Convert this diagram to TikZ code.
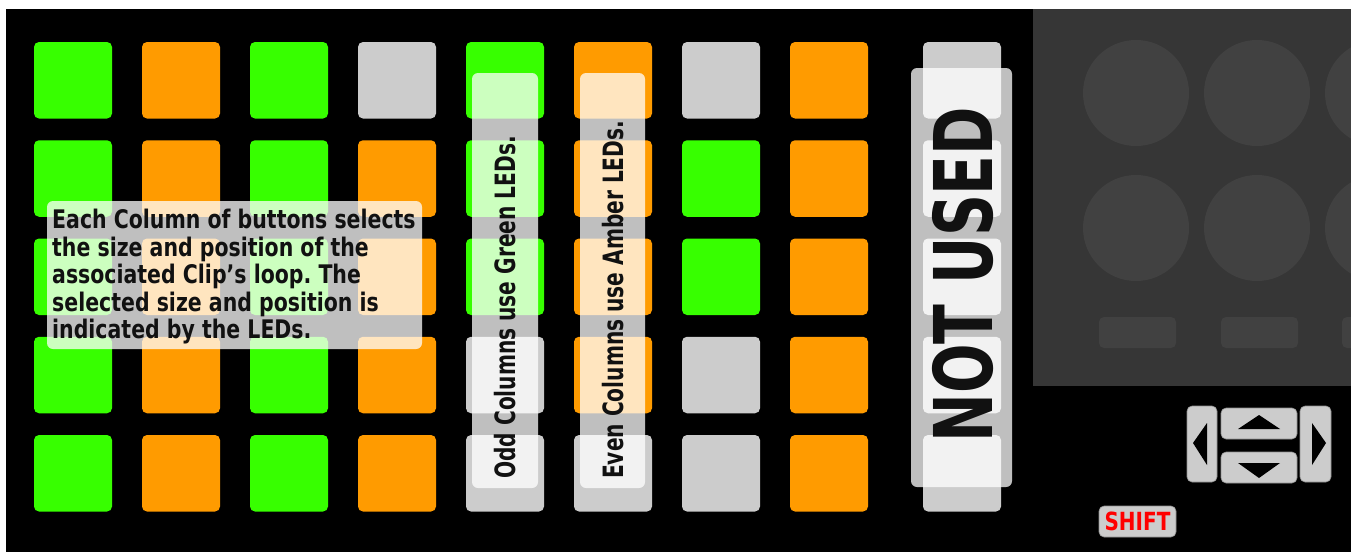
\documentclass[tikz,border=0pt]{standalone}
\usepackage{fontspec}
\usepackage{graphicx}
\newfontfamily\notefont{DejaVu Sans}[FakeStretch=0.8]
\newfontfamily\tallfont{DejaVu Sans}[FakeStretch=0.72]
\definecolor{padG}{HTML}{37FF00}
\definecolor{padO}{HTML}{FF9B00}
\definecolor{padW}{HTML}{CCCCCC}
\definecolor{panel}{HTML}{363636}
\definecolor{knob}{HTML}{414141}
\definecolor{ink}{HTML}{111111}
\definecolor{shiftred}{HTML}{FF0000}
\tikzset{
  pad/.style={rounded corners=5pt,minimum width=78pt,minimum height=76.5pt,inner sep=0pt},
  veil/.style={fill=white,fill opacity=0.75,rounded corners=6pt},
  navkey/.style={fill=padW,draw=padW!70!black,line width=0.6pt,rounded corners=5pt,inner sep=0pt},
  paratext/.style={text=ink,align=left,inner sep=0pt,font=\notefont\bfseries\fontsize{25.6}{27.5}\selectfont},
  coltext/.style={text=ink,inner sep=0pt,font=\tallfont\bfseries\fontsize{28}{30}\selectfont},
  bigtext/.style={text=ink,inner sep=0pt,font=\tallfont\bfseries\fontsize{81}{84}\selectfont}
}
\frenchspacing

\begin{document}
\begin{tikzpicture}[x=1pt,y=-1pt,line cap=round,line join=round]
\useasboundingbox (0,0) rectangle (1351,552);
\fill[white] (0,0) rectangle (1351,552);
\fill[black] (6,9) rectangle (1351,552);
% right hand panel
\fill[panel] (1033,9) rectangle (1351,386);
\begin{scope}
\clip (1033,9) rectangle (1351,386);
\foreach \kx in {1136,1257,1378}{
  \fill[knob] (\kx,93) circle[radius=53pt];
  \fill[knob] (\kx,228) circle[radius=53pt];
}
\foreach \kx in {1099,1221,1342}
  \fill[knob,rounded corners=5pt] (\kx,317) rectangle ++(77,31);
\end{scope}
% clip launch grid
\foreach \cols [count=\r from 0] in {{G,O,G,W,G,O,W,O},{G,O,G,O,G,O,G,O},{G,O,G,O,G,O,G,O},{G,O,G,O,W,O,W,O},{G,O,G,O,W,W,W,O}}{
  \foreach \c [count=\i from 0] in \cols
    \node[pad,fill=pad\c] (pad-\r-\i) at ({73+108*\i},{80.25+98.25*\r}) {};
  \node[pad,fill=padW] (scene-\r) at (962,{80.25+98.25*\r}) {};
}
% notes
\fill[veil] (47,201) rectangle (422,349);
\node[paratext,anchor=north west] (loopnote) at (52,209) {Each Column of buttons selects\\the size and position of the\\associated Clip’s loop. The\\selected size and position is\\indicated by the LEDs.};
\fill[veil] (472,73) rectangle (538,488);
\node[coltext,rotate=90,anchor=base west] (oddnote) at (515,479) {Odd Columns use Green LEDs.};
\fill[veil] (580,73) rectangle (645,488);
\node[coltext,rotate=90,anchor=base west] (evennote) at (623,479) {Even Columns use Amber LEDs.};
\fill[veil] (911,68) rectangle (1012,487);
\node[bigtext,rotate=90,anchor=base west] (unused) at (992,443) {NOT USED};
% arrow keys and shift
\node[navkey,minimum width=30pt,minimum height=76pt] (navleft) at (1202,444) {};
\node[navkey,minimum width=76pt,minimum height=31pt] (navup) at (1259,423.5) {};
\node[navkey,minimum width=76pt,minimum height=31pt] (navdown) at (1259,467.5) {};
\node[navkey,minimum width=31pt,minimum height=76pt] (navright) at (1315.5,444) {};
\fill[black] (1193,443) -- (1207,423) -- (1207,465) -- cycle;
\fill[black] (1326,443) -- (1312,423) -- (1312,465) -- cycle;
\fill[black] (1259,415) -- (1280,429) -- (1238,429) -- cycle;
\fill[black] (1259,478) -- (1280,463) -- (1238,463) -- cycle;
\node[navkey,minimum width=77pt,minimum height=31pt,text=shiftred,font=\notefont\bfseries\fontsize{25}{26}\selectfont] (shift) at (1137.5,521.5) {SHIFT};
\end{tikzpicture}
\end{document}
